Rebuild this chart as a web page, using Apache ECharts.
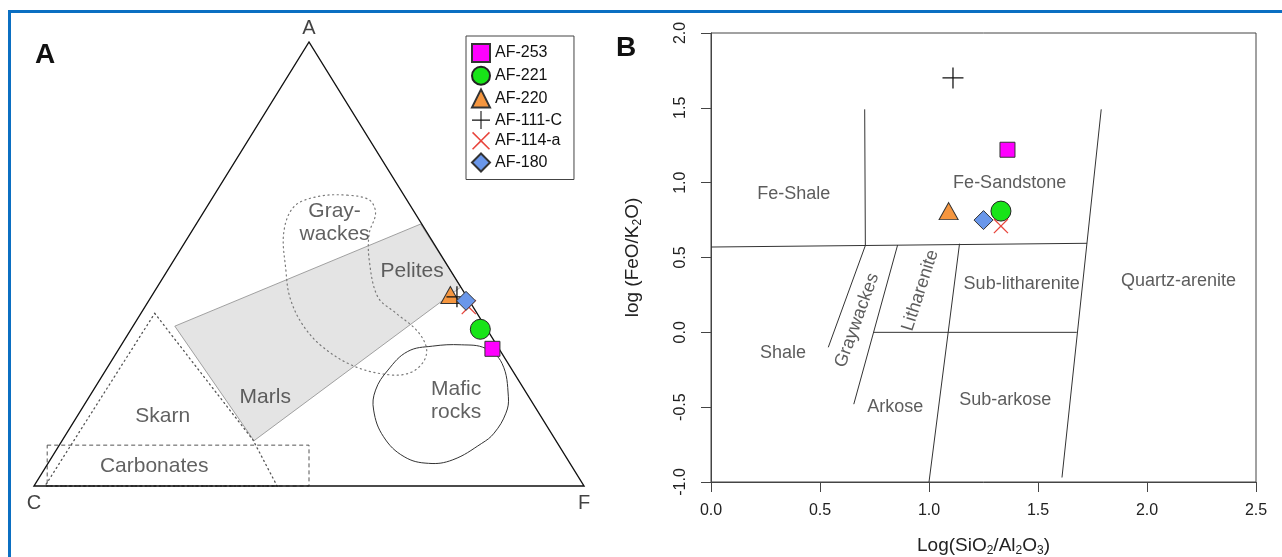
<!DOCTYPE html>
<html lang="en">
<head>
<meta charset="UTF-8">
<title>ACF diagram and log(SiO2/Al2O3) - log(FeO/K2O)</title>
<script src="https://cdn.jsdelivr.net/npm/echarts@6.0.0/dist/echarts.min.js"></script>
<style>
    html, body { margin: 0; padding: 0; background: #fff; }
    #chart { width: 1282px; height: 557px; }
</style>
</head>
<body>
<div id="chart"></div>
<script>
var FONT = '"Liberation Sans", Arial, Helvetica, sans-serif';

// samples, in legend order
var samples = ['AF-253', 'AF-221', 'AF-220', 'AF-111-C', 'AF-114-a', 'AF-180'];

// panel A : compositions in %, [A, C, F]
var acfValues = [
    [30.9, 1.2, 67.9],
    [35.3, 1.2, 63.5],
    [43.0, 2.8, 54.2],
    [42.6, 1.8, 55.6],
    [40.3, 0.8, 58.9],
    [41.7, 0.6, 57.7]
];

// panel B : log(SiO2/Al2O3) and log(FeO/K2O)
var logSiAl = [1.36, 1.33, 1.09, 1.11, 1.33, 1.25];
var logFeK = [1.22, 0.81, 0.81, 1.70, 0.71, 0.75];

// panel A fields, [A, C, F] in %
var triangleCorners = [[0, 100, 0], [0, 0, 100], [100, 0, 0]];
var cornerNames = ['C', 'F', 'A'];
var marlsField = [[59, 0.2, 40.8], [44.8, 0, 55.2], [10.2, 54.9, 34.9], [36, 56.4, 7.6]];
var graywackesField = [
    [65.5, 10.3, 24.2], [64.4, 6.8, 28.8], [61.4, 7.2, 31.4], [56.9, 10.6, 32.5],
    [50.9, 13.6, 35.5], [42.6, 16.2, 41.2], [38.9, 14.7, 46.4], [35.1, 12.9, 52.0],
    [31.4, 13.0, 55.6], [28.4, 14.8, 56.8], [25.7, 18.4, 55.9], [25.0, 22.5, 52.5],
    [26.9, 28.2, 44.9], [31.4, 31.9, 36.7], [36.6, 33.0, 30.4], [42.6, 32.2, 25.2],
    [48.6, 29.9, 21.5], [57.0, 26.1, 16.9], [62.9, 21.3, 15.8], [65.2, 15.8, 19.0]
];
var skarnField = [[38.9, 58.6, 2.5], [24.6, 56.8, 18.6], [10.4, 55.0, 34.6], [0, 55.8, 44.2], [0, 98, 2]];
var carbonatesField = [[9.2, 93.0, -2.2], [9.2, 45.4, 45.4], [0, 50, 50], [0, 97.6, 2.4]];
var maficField = [
    [31.8, 6.4, 61.8], [31.0, 2.4, 66.6], [27.6, 1.1, 71.3], [20.1, 3.7, 76.2],
    [16.4, 6.0, 77.6], [11.9, 10.4, 77.7], [9.6, 13.8, 76.6], [5.9, 20.9, 73.2],
    [5.1, 25.7, 69.2], [6.6, 29.4, 64.0], [11.1, 30.9, 58.0], [17.1, 29.7, 53.2],
    [21.6, 27.1, 51.3], [26.1, 22.6, 51.3], [30.3, 16.9, 52.8], [31.5, 11.8, 56.7]
];
var fieldNamesA = ['Gray-\nwackes', 'Pelites', 'Marls', 'Skarn', 'Carbonates', 'Mafic\nrocks'];
var fieldLabelA = [
    [59.3, 15.7, 25.0], [48.3, 7.1, 44.6], [20.1, 47.9, 32.0],
    [15.8, 68.7, 15.5], [4.5, 75.9, 19.6], [19.1, 13.7, 67.2]
];

// panel B field boundaries, [x, y] pairs
var boundariesB = [
    [[0, 0.57], [1.725, 0.595]],
    [[0.705, 1.49], [0.708, 0.58]],
    [[1.79, 1.49], [1.61, -0.97]],
    [[0.745, 0.0], [1.678, 0.0]],
    [[1.14, 0.592], [1.0, -1.0]],
    [[0.856, 0.583], [0.655, -0.48]],
    [[0.708, 0.58], [0.538, -0.10]]
];
var fieldNamesB = ['Fe-Shale', 'Fe-Sandstone', 'Sub-litharenite', 'Quartz-arenite', 'Shale',
    'Graywackes', 'Litharenite', 'Arkose', 'Sub-arkose'];
var fieldXB = [0.38, 1.37, 1.425, 2.145, 0.33, 0.67, 0.96, 0.845, 1.35];
var fieldYB = [0.925, 1.0, 0.32, 0.34, -0.135, 0.08, 0.28, -0.50, -0.45];
var fieldRotB = [0, 0, 0, 0, 0, 70, 72, 0, 0];

// axis ranges, panel B
var xRange = [0, 2.5];
var yRange = [-1, 2];
var tickStep = 0.5;

// marker styles
var markStyles = [
    {symbol: 'rect', size: 15, color: '#ff00ff', border: '#333'},
    {symbol: 'circle', size: 20, color: '#18e418', border: '#222'},
    {symbol: 'triangle', size: [19, 17], color: '#f5963f', border: '#333'},
    {symbol: 'path://M0,9.4H9.4V0H10.6V9.4H20V10.6H10.6V20H9.4V10.6H0Z', size: 21, color: '#111', border: null},
    {symbol: 'path://M1.2,0L10,8.8L18.8,0L20,1.2L11.2,10L20,18.8L18.8,20L10,11.2L1.2,20L0,18.8L8.8,10L0,1.2Z', size: 15, color: '#e8453c', border: null},
    {symbol: 'diamond', size: 19, color: '#6a97ea', border: '#333'}
];

// ternary [A, C, F] -> diagram plane
function ternXY(p) {
    var s = p[0] + p[1] + p[2];
    var a = p[0] / s, f = p[2] / s;
    return [f + a / 2, a];
}

function fieldSeries(points, style, smooth) {
    return {
        type: 'custom',
        coordinateSystem: 'cartesian2d',
        xAxisIndex: 0,
        yAxisIndex: 0,
        silent: true,
        data: [[0, 0]],
        renderItem: function (params, api) {
            return {
                type: 'polygon',
                shape: {
                    points: points.map(function (p) { return api.coord(ternXY(p)); }),
                    smooth: smooth || 0
                },
                style: style
            };
        }
    };
}

var series = [];

series.push(fieldSeries(marlsField, {fill: '#e4e4e4', stroke: '#8c8c8c', lineWidth: 0.8}));
series.push(fieldSeries(graywackesField, {fill: 'none', stroke: '#7a7a7a', lineWidth: 1.2, lineDash: [1.2, 3.5], lineCap: 'round'}, 0.35));
series.push(fieldSeries(skarnField, {fill: 'none', stroke: '#555', lineWidth: 1.3, lineDash: [1.2, 3.5], lineCap: 'round'}));
series.push(fieldSeries(carbonatesField, {fill: 'none', stroke: '#555', lineWidth: 1, lineDash: [4, 3]}));
series.push(fieldSeries(maficField, {fill: 'none', stroke: '#333', lineWidth: 1}, 0.4));
series.push(fieldSeries(triangleCorners, {fill: 'none', stroke: '#111', lineWidth: 1.4}));

// corner names
series.push({
    type: 'scatter',
    xAxisIndex: 0, yAxisIndex: 0,
    silent: true,
    symbolSize: 0,
    data: triangleCorners.map(function (p, i) {
        return {
            name: cornerNames[i],
            value: ternXY(p),
            label: cornerNames[i] === 'A'
                ? {position: 'top', distance: 4}
                : {position: 'bottom', distance: 7}
        };
    }),
    label: {show: true, formatter: '{b}', fontSize: 20, color: '#111', fontFamily: FONT}
});

// field names, panel A
series.push({
    type: 'scatter',
    xAxisIndex: 0, yAxisIndex: 0,
    silent: true,
    symbolSize: 0,
    data: fieldLabelA.map(function (p, i) {
        return {name: fieldNamesA[i], value: ternXY(p)};
    }),
    label: {
        show: true, position: 'inside', formatter: '{b}',
        fontSize: 21, lineHeight: 23, color: '#3a3a3a', fontFamily: FONT
    }
});

// boundaries, panel B
boundariesB.forEach(function (seg) {
    series.push({
        type: 'line',
        xAxisIndex: 1, yAxisIndex: 1,
        silent: true,
        symbol: 'none',
        data: seg,
        lineStyle: {color: '#333', width: 1}
    });
});

// field names, panel B
series.push({
    type: 'scatter',
    xAxisIndex: 1, yAxisIndex: 1,
    silent: true,
    symbolSize: 0,
    data: fieldNamesB.map(function (n, i) {
        return {name: n, value: [fieldXB[i], fieldYB[i]], label: {rotate: fieldRotB[i]}};
    }),
    label: {
        show: true, position: 'inside', formatter: '{b}',
        fontSize: 18, color: '#333', fontFamily: FONT
    }
});

// samples in both panels
samples.forEach(function (name, i) {
    var st = markStyles[i];
    var itemStyle = {color: st.color, opacity: 1};
    if (st.border) {
        itemStyle.borderColor = st.border;
        itemStyle.borderWidth = 1;
    }
    series.push({
        type: 'scatter', name: name,
        xAxisIndex: 0, yAxisIndex: 0,
        symbol: st.symbol, symbolSize: st.size,
        itemStyle: itemStyle,
        data: [ternXY(acfValues[i])]
    });
    series.push({
        type: 'scatter', name: name,
        xAxisIndex: 1, yAxisIndex: 1,
        symbol: st.symbol, symbolSize: st.size,
        itemStyle: itemStyle,
        data: [[logSiAl[i], logFeK[i]]]
    });
});

var axisGray = '#444';
var subRich = {
    sub: {fontSize: 12, lineHeight: 14, verticalAlign: 'bottom', fontFamily: FONT, color: '#222'}
};

var option = {
    animation: false,
    backgroundColor: '#fff',
    textStyle: {fontFamily: FONT},
    grid: [
        {left: 34, top: 42, width: 550, height: 444, outerBoundsMode: 'none', containLabel: false},
        {left: 711, top: 33, width: 545, height: 449, outerBoundsMode: 'none', containLabel: false,
            show: true, borderColor: axisGray, borderWidth: 1, backgroundColor: 'transparent'}
    ],
    xAxis: [
        {gridIndex: 0, type: 'value', min: 0, max: 1, show: false},
        {
            gridIndex: 1, type: 'value', min: xRange[0], max: xRange[1], interval: tickStep,
            splitLine: {show: false},
            axisLine: {show: true, onZero: false, lineStyle: {color: axisGray, width: 1}},
            axisTick: {show: true, length: 10, lineStyle: {color: axisGray}},
            axisLabel: {
                fontSize: 16, color: '#222', margin: 21, fontFamily: FONT,
                formatter: function (v) { return v.toFixed(1); }
            },
            name: 'Log(SiO{sub|2}/Al{sub|2}O{sub|3})',
            nameLocation: 'middle',
            nameGap: 53,
            nameTextStyle: {fontSize: 19, lineHeight: 22, color: '#222', fontFamily: FONT, rich: subRich}
        }
    ],
    yAxis: [
        {gridIndex: 0, type: 'value', min: 0, max: 1, show: false},
        {
            gridIndex: 1, type: 'value', min: yRange[0], max: yRange[1], interval: tickStep,
            splitLine: {show: false},
            axisLine: {show: true, onZero: false, lineStyle: {color: axisGray, width: 1}},
            axisTick: {show: true, length: 10, lineStyle: {color: axisGray}},
            axisLabel: {
                fontSize: 16, color: '#222', margin: 22, rotate: 90, fontFamily: FONT,
                formatter: function (v) { return v.toFixed(1); }
            },
            name: 'log (FeO/K{sub|2}O)',
            nameLocation: 'middle',
            nameRotate: 90,
            nameGap: 67,
            nameTextStyle: {fontSize: 19, lineHeight: 22, color: '#222', fontFamily: FONT, rich: subRich}
        }
    ],
    legend: {
        data: samples,
        orient: 'vertical',
        left: 466,
        top: 36,
        itemWidth: 18,
        itemHeight: 18,
        itemGap: 2.7,
        padding: [7, 12, 7, 5],
        borderColor: '#444',
        borderWidth: 1,
        selectedMode: false,
        textStyle: {fontSize: 16, color: '#111', fontFamily: FONT}
    },
    graphic: [
        {
            type: 'rect', silent: true, z: 100,
            shape: {x: 9.5, y: 11.5, width: 1400, height: 700},
            style: {fill: 'none', stroke: '#0b6fc2', lineWidth: 3}
        },
        {
            type: 'text', silent: true,
            style: {text: 'A', x: 45, y: 55, align: 'center', verticalAlign: 'middle',
                font: 'bold 28px ' + FONT, fill: '#111'}
        },
        {
            type: 'text', silent: true,
            style: {text: 'B', x: 626, y: 48, align: 'center', verticalAlign: 'middle',
                font: 'bold 28px ' + FONT, fill: '#111'}
        }
    ],
    series: series
};

var chart = echarts.init(document.getElementById('chart'));
chart.setOption(option);
</script>
</body>
</html>
